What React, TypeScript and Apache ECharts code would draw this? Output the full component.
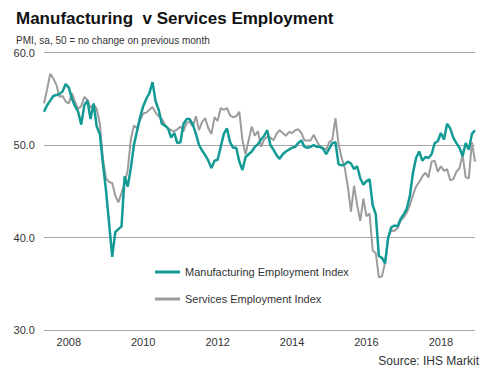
import React, { useEffect, useRef } from "react";
import * as echarts from "echarts";

// Monthly observations, May 2007 – Dec 2018
const START_YEAR = 2007;
const START_MONTH = 5;
const manufacturing: number[] = [
  53.6, 54.3, 54.8, 55.3, 55.4, 55.5, 55.8, 56.6, 56.2, 55.0,
  54.2, 53.6, 52.2, 54.3, 54.8, 52.8, 54.5, 52.0, 51.2, 48.0,
  45.1, 41.5, 37.9, 40.6, 40.9, 41.2, 46.6, 45.5, 47.5, 50.0,
  51.5, 53.0, 54.2, 55.0, 55.6, 56.8, 54.7, 53.8, 52.3, 52.1,
  51.8, 50.8, 51.3, 50.2, 50.3, 52.3, 52.8, 52.8, 52.2, 51.2,
  50.0, 49.4, 48.9, 48.3, 47.5, 48.3, 48.4, 49.8, 51.2, 51.8,
  50.3, 49.7, 49.7, 48.2, 47.3, 48.7, 49.0, 49.3, 49.8, 50.1,
  50.6, 51.0, 51.6, 50.0, 49.5, 48.9, 48.5, 49.0, 49.3, 49.5,
  49.7, 49.8, 50.2, 50.5, 49.8, 49.7, 49.8, 50.0, 49.8, 49.8,
  49.6, 49.0, 49.6, 50.2, 50.3, 47.9, 47.8, 47.9, 48.2, 48.0,
  47.4, 47.7, 46.4, 45.7, 46.1, 46.3, 43.5, 42.5, 38.0, 37.8,
  37.2, 40.0, 41.1, 41.3, 41.2, 42.0, 42.5, 43.1, 44.5, 47.0,
  48.6, 49.3, 48.3, 48.7, 48.6, 49.0, 50.2, 50.4, 51.3, 50.6,
  52.3, 51.8, 50.8, 50.2, 49.7, 48.8, 50.2, 49.5, 51.2, 51.6,
];
const services: number[] = [
  54.5, 56.0, 57.7, 57.2, 56.5, 55.2, 55.3, 54.7, 54.5, 55.6,
  54.7, 53.9, 54.2, 55.2, 54.9, 54.0, 54.4, 53.9, 52.3, 48.5,
  46.4, 46.0, 45.9, 44.5, 43.8, 44.8, 45.9, 47.3, 50.6, 52.1,
  51.8, 52.7, 53.4, 53.5, 53.8, 54.1, 53.5, 53.1, 52.8, 52.2,
  51.8, 51.6, 51.5, 51.7, 52.0, 51.5, 52.4, 52.5, 52.0, 53.1,
  51.6, 52.5, 52.9, 51.8, 51.2, 53.0, 52.6, 54.0, 53.8, 54.0,
  53.2, 53.0, 53.1, 53.6, 50.5, 49.0, 50.5, 52.0, 51.0, 51.5,
  49.8, 50.6, 50.9, 50.8, 50.5, 51.2, 51.6, 51.3, 51.0, 51.4,
  51.3, 51.6, 51.7, 51.3, 50.5, 50.5, 50.5, 51.1, 50.4, 49.8,
  49.7, 49.5, 50.3, 50.6, 52.9, 50.1, 48.6, 47.5, 45.5, 42.8,
  45.6, 43.5, 41.8, 44.2, 42.3, 42.6, 38.6, 38.3, 35.7, 35.8,
  37.3, 40.0, 40.8, 40.7, 41.0, 41.8, 42.2, 42.7, 43.5, 44.6,
  45.5, 46.0, 46.6, 47.0, 46.5, 48.2, 48.3, 47.1, 47.7, 47.2,
  47.4, 46.2, 46.3, 47.1, 47.5, 48.9, 46.5, 46.4, 50.3, 48.2,
];
const months: string[] = manufacturing.map((_, i) => {
  const m0 = START_MONTH - 1 + i;
  const y = START_YEAR + Math.floor(m0 / 12);
  const m = (m0 % 12) + 1;
  return `${y}-${m < 10 ? "0" + m : m}`;
});
const yTicks = [30, 40, 50, 60];

const TITLE = "Manufacturing  v Services Employment";
const SUBTITLE = "PMI, sa, 50 = no change on previous month";
const SOURCE = "Source: IHS Markit";
const TEAL = "#139a94";
const GREY = "#9c9c9c";
const FONT = "'Liberation Sans', Arial, sans-serif";

export default function App() {
  const ref = useRef<HTMLDivElement>(null);
  useEffect(() => {
    if (!ref.current) return;
    const chart = echarts.init(ref.current, undefined, { renderer: "svg" });
    chart.setOption({
      animation: false,
      backgroundColor: "#ffffff",
      textStyle: { fontFamily: FONT },
      title: [
        {
          text: TITLE,
          left: 11,
          top: 5,
          textStyle: { fontSize: 17, fontWeight: "bold", color: "#111", fontFamily: FONT },
        },
        {
          text: SUBTITLE,
          left: 11,
          top: 30,
          textStyle: { fontSize: 10, fontWeight: "normal", color: "#333", fontFamily: FONT },
        },
      ],
      legend: {
        orient: "vertical",
        left: 150,
        top: 260,
        icon: "rect",
        itemWidth: 25,
        itemHeight: 3,
        itemGap: 13,
        textStyle: { fontSize: 11, color: "#333", lineHeight: 14, fontFamily: FONT },
        data: ["Manufacturing Employment Index", "Services Employment Index"],
      },
      grid: { left: 44, right: 24, top: 52.5, bottom: 52, containLabel: false },
      xAxis: {
        type: "category",
        data: months,
        boundaryGap: false,
        axisLine: { show: false },
        axisTick: { show: false },
        splitLine: { show: false },
        axisLabel: {
          interval: (idx: number, val: string) => {
            const [y, m] = val.split("-");
            return m === "01" && Number(y) % 2 === 0;
          },
          formatter: (val: string) => val.split("-")[0],
          fontSize: 11,
          color: "#333",
          margin: 6,
          fontFamily: FONT,
        },
      },
      yAxis: {
        type: "value",
        min: yTicks[0],
        max: yTicks[yTicks.length - 1],
        interval: 10,
        axisLine: { show: false },
        axisTick: { show: false },
        splitLine: { lineStyle: { color: "#a6a6a6", width: 1 } },
        axisLabel: {
          formatter: (v: number) => v.toFixed(1),
          fontSize: 11,
          color: "#333",
          margin: 9,
          fontFamily: FONT,
        },
      },
      series: [
        {
          name: "Services Employment Index",
          type: "line",
          data: services,
          showSymbol: false,
          symbol: "none",
          lineStyle: { color: GREY, width: 2 },
          itemStyle: { color: GREY },
          z: 2,
        },
        {
          name: "Manufacturing Employment Index",
          type: "line",
          data: manufacturing,
          showSymbol: false,
          symbol: "none",
          lineStyle: { color: TEAL, width: 2.5 },
          itemStyle: { color: TEAL },
          z: 3,
        },
      ],
      graphic: [
        {
          type: "text",
          right: 20,
          top: 355,
          style: { text: SOURCE, fontSize: 12, fill: "#333", font: `12px ${FONT}` },
        },
      ],
    });
    return () => chart.dispose();
  }, []);
  return <div ref={ref} style={{ width: 499, height: 382, margin: -8 }} />;
}
